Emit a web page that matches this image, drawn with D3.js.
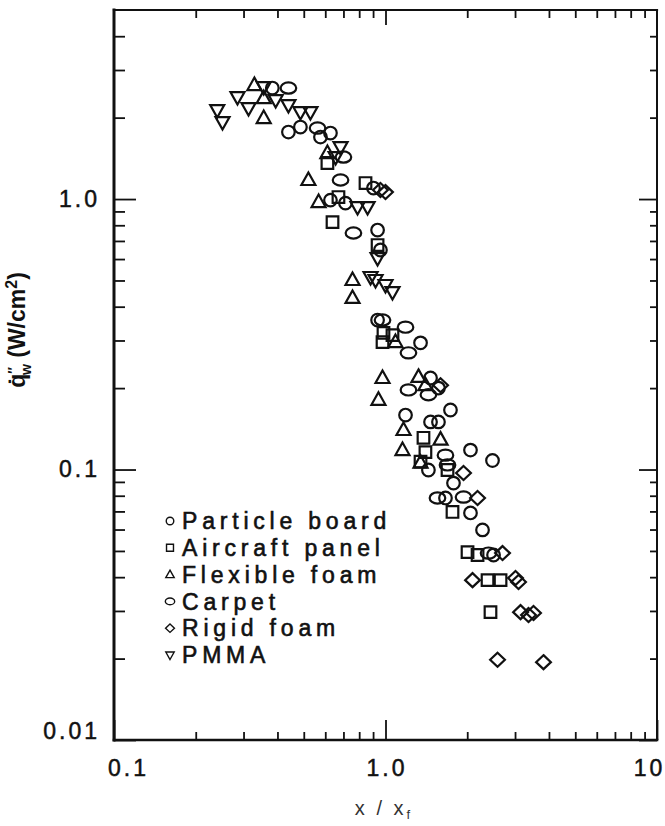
<!DOCTYPE html>
<html>
<head>
<meta charset="utf-8">
<script src="https://cdn.jsdelivr.net/npm/d3@7"></script>
<style>
  html, body { margin: 0; padding: 0; background: #fff; }
  svg { display: block; font-family: "Liberation Sans", Arial, Helvetica, sans-serif; }
</style>
</head>
<body>
<svg id="chart" width="665" height="826"></svg>
<script>
// Wall heat flux versus normalized height, six materials: [x/xf, q"w (W/cm2)]
const particleBoard = [
  [0.383, 2.573], [0.439, 1.769], [0.486, 1.846], [0.576, 1.695], [0.627, 1.754],
  [0.903, 1.098], [0.627, 0.991], [0.712, 0.966], [0.935, 0.768], [0.958, 0.648],
  [0.935, 0.357], [1.346, 0.294], [1.465, 0.218], [1.567, 0.200], [1.735, 0.166],
  [1.185, 0.159], [1.465, 0.150], [1.567, 0.150], [2.056, 0.118], [2.478, 0.108],
  [1.439, 0.0996], [1.780, 0.0891], [1.663, 0.0785], [2.056, 0.0691], [2.277, 0.0598],
  [2.500, 0.0483]
];
const aircraftPanel = [
  [0.844, 1.146], [0.671, 1.017], [0.638, 0.822], [0.935, 0.676], [0.983, 0.320],
  [0.975, 0.296], [1.061, 0.314], [1.380, 0.131], [1.403, 0.116], [1.346, 0.107],
  [1.692, 0.0996], [1.765, 0.0697], [2.005, 0.0495], [2.183, 0.0483], [2.376, 0.0390],
  [2.653, 0.0390], [2.436, 0.0297], [0.611, 1.359]
];
const flexibleFoam = [
  [0.329, 2.639], [0.356, 2.362], [0.356, 1.993], [0.611, 1.479], [0.520, 1.176],
  [0.567, 0.975], [0.756, 0.502], [0.756, 0.431], [1.088, 0.296], [0.975, 0.218],
  [0.942, 0.181], [1.323, 0.220], [1.403, 0.205], [1.165, 0.140], [1.155, 0.118],
  [1.595, 0.129], [1.346, 0.106]
];
const carpet = [
  [0.439, 2.573], [0.562, 1.830], [0.700, 1.430], [0.683, 1.176], [0.762, 0.749],
  [0.975, 0.357], [1.185, 0.336], [1.215, 0.270], [1.215, 0.197], [1.439, 0.189],
  [1.663, 0.113], [1.692, 0.104], [1.554, 0.0785], [1.938, 0.0791], [2.396, 0.0491]
];
const rigidFoam = [
  [0.958, 1.080], [1.000, 1.061], [1.595, 0.205], [1.938, 0.0971], [2.183, 0.0785],
  [2.698, 0.0491], [2.092, 0.0390], [3.012, 0.0397], [3.090, 0.0384], [3.143, 0.0297],
  [3.363, 0.0290], [3.509, 0.0295], [2.586, 0.0198], [3.819, 0.0194]
];
const pmma = [
  [0.240, 2.133], [0.251, 1.926], [0.285, 2.383], [0.313, 2.170], [0.356, 2.595],
  [0.394, 2.323], [0.439, 2.226], [0.486, 2.097], [0.529, 2.097], [0.683, 1.557],
  [0.655, 1.430], [0.789, 0.934], [0.859, 0.934], [0.935, 0.605], [0.881, 0.515],
  [0.919, 0.502], [1.000, 0.481], [1.061, 0.453]
];

const seriesNames = ["Particle board", "Aircraft panel", "Flexible foam", "Carpet", "Rigid foam", "PMMA"];
const seriesShapes = ["circle", "square", "triangle", "ellipse", "diamond", "triangleDown"];
const seriesData = [particleBoard, aircraftPanel, flexibleFoam, carpet, rigidFoam, pmma];

const xMinorTicks = [0.2, 0.3, 0.4, 0.5, 0.6, 0.7, 0.8, 0.9, 2, 3, 4, 5, 6, 7, 8, 9];
const xMajorTicks = [0.1, 1, 10];
const xTickLabels = ["0.1", "1.0", "10"];
const yMinorTicks = [0.02, 0.03, 0.04, 0.05, 0.06, 0.07, 0.08, 0.09,
                     0.2, 0.3, 0.4, 0.5, 0.6, 0.7, 0.8, 0.9, 2, 3, 4];
const yMajorTicks = [0.01, 0.1, 1];
const yTickLabels = ["0.01", "0.1", "1.0"];

const svg = d3.select("#chart");
const plotLeft = 114, plotRight = 657, plotTop = 10, plotBottom = 740;

const x = d3.scaleLog().domain([0.1, 10]).range([plotLeft, plotRight]);
const y = d3.scaleLog().domain([0.01, 5]).range([plotBottom, plotTop]);

const ink = "#111";

// ---- marker shapes (outline only) ----
function shapePath(kind, s) {
  const p = d3.path();
  if (kind === "square") {
    const h = 5.8 * s; p.rect(-h, -h, 2 * h, 2 * h);
  } else if (kind === "triangle") {
    const w = 7 * s, h = 12.5 * s;
    p.moveTo(0, -h * 0.6); p.lineTo(w, h * 0.4); p.lineTo(-w, h * 0.4); p.closePath();
  } else if (kind === "triangleDown") {
    const w = 7 * s, h = 12.5 * s;
    p.moveTo(0, h * 0.6); p.lineTo(w, -h * 0.4); p.lineTo(-w, -h * 0.4); p.closePath();
  } else if (kind === "diamond") {
    const w = 7.4 * s, h = 7 * s;
    p.moveTo(0, -h); p.lineTo(w, 0); p.lineTo(0, h); p.lineTo(-w, 0); p.closePath();
  }
  return p.toString();
}
function drawMarker(g, kind, s) {
  if (kind === "circle") {
    g.append("circle").attr("r", 6.3 * s);
  } else if (kind === "ellipse") {
    g.append("ellipse").attr("rx", 7.8 * s).attr("ry", 5.6 * s);
  } else {
    g.append("path").attr("d", shapePath(kind, s));
  }
}

// ---- data points ----
const plot = svg.append("g").attr("fill", "none").attr("stroke", ink).attr("stroke-width", 2.2);
seriesData.forEach((data, i) => {
  const grp = plot.append("g").attr("class", "series");
  data.forEach(d => {
    const m = grp.append("g").attr("transform", `translate(${x(d[0])},${y(d[1])})`);
    drawMarker(m, seriesShapes[i], 1);
  });
});

// ---- axes: ticks point into the plot ----
const tickStyle = g => {
  g.select(".domain").remove();
  g.selectAll(".tick line").attr("stroke", ink).attr("stroke-width", 1.8);
  g.selectAll(".tick text").attr("fill", ink)
    .attr("stroke", ink).attr("stroke-width", 0.5)
    .style("font-size", "23px").style("letter-spacing", "3px");
};

svg.append("g").attr("transform", `translate(0,${plotBottom})`)
  .call(d3.axisBottom(x).tickValues(xMinorTicks).tickSize(-8).tickFormat(""))
  .call(tickStyle);
svg.append("g").attr("transform", `translate(0,${plotBottom})`)
  .call(d3.axisBottom(x).tickValues(xMajorTicks).tickSize(-20).tickPadding(20)
    .tickFormat((d, i) => xTickLabels[i]))
  .call(tickStyle)
  .call(g => g.selectAll(".tick text").attr("dx", (d, i) => [14, 1, -8][i]));

svg.append("g").attr("transform", `translate(0,${plotTop})`)
  .call(d3.axisTop(x).tickValues(xMinorTicks).tickSize(-8).tickFormat(""))
  .call(tickStyle);
svg.append("g").attr("transform", `translate(0,${plotTop})`)
  .call(d3.axisTop(x).tickValues([1]).tickSize(-15).tickFormat(""))
  .call(tickStyle);

svg.append("g").attr("transform", `translate(${plotLeft},0)`)
  .call(d3.axisLeft(y).tickValues(yMinorTicks).tickSize(-11).tickFormat(""))
  .call(tickStyle);
svg.append("g").attr("transform", `translate(${plotLeft},0)`)
  .call(d3.axisLeft(y).tickValues(yMajorTicks).tickSize(-22).tickPadding(14)
    .tickFormat((d, i) => yTickLabels[i]))
  .call(tickStyle)
  .call(g => g.selectAll(".tick text").attr("dy", (d, i) => i === 0 ? "-0.05em" : "0.32em"));

svg.append("g").attr("transform", `translate(${plotRight},0)`)
  .call(d3.axisRight(y).tickValues(yMinorTicks).tickSize(-7).tickFormat(""))
  .call(tickStyle);
svg.append("g").attr("transform", `translate(${plotRight},0)`)
  .call(d3.axisRight(y).tickValues(yMajorTicks).tickSize(-18).tickFormat(""))
  .call(tickStyle);

// ---- frame ----
const frame = svg.append("g").attr("stroke", ink).attr("stroke-linecap", "square");
frame.append("line").attr("x1", plotLeft).attr("x2", plotLeft).attr("y1", plotTop).attr("y2", plotBottom).attr("stroke-width", 3);
frame.append("line").attr("x1", plotLeft).attr("x2", plotRight).attr("y1", plotBottom).attr("y2", plotBottom).attr("stroke-width", 2.6);
frame.append("line").attr("x1", plotLeft).attr("x2", plotRight).attr("y1", plotTop).attr("y2", plotTop).attr("stroke-width", 2.2);
frame.append("line").attr("x1", plotRight).attr("x2", plotRight).attr("y1", plotTop).attr("y2", plotBottom).attr("stroke-width", 2);

// ---- legend ----
const legend = svg.append("g").attr("transform", "translate(170,521)");
seriesNames.forEach((name, i) => {
  const row = legend.append("g").attr("transform", `translate(0,${i * 26.8})`);
  const m = row.append("g").attr("fill", "none").attr("stroke", ink).attr("stroke-width", 1.4);
  drawMarker(m, seriesShapes[i], 0.6);
  row.append("text").attr("x", 12).attr("y", 0).attr("dy", "0.36em")
    .attr("fill", ink).attr("stroke", ink).attr("stroke-width", 0.6)
    .style("font-size", "23px").style("letter-spacing", "4.8px")
    .text(name);
});

// ---- axis titles ----
const xt = svg.append("text").attr("x", 384).attr("y", 815).attr("text-anchor", "middle")
  .attr("fill", "#333").style("font-size", "20px").style("letter-spacing", "3px");
xt.append("tspan").text("x / x");
xt.append("tspan").attr("dy", 4).style("font-size", "13px").text("f");

const yt = svg.append("text").attr("transform", "translate(25,330) rotate(-90)")
  .attr("text-anchor", "middle").attr("fill", ink)
  .style("font-size", "23px").style("font-weight", "bold");
yt.append("tspan").text("q\u0307");
yt.append("tspan").attr("dy", -7).style("font-size", "14px").text("\u2033");
yt.append("tspan").attr("dx", -8).attr("dy", 13).style("font-size", "14px").text("w");
yt.append("tspan").attr("dy", -6).text(" (W/cm");
yt.append("tspan").attr("dy", -8).style("font-size", "16px").text("2");
yt.append("tspan").attr("dy", 8).text(")");
</script>
</body>
</html>
